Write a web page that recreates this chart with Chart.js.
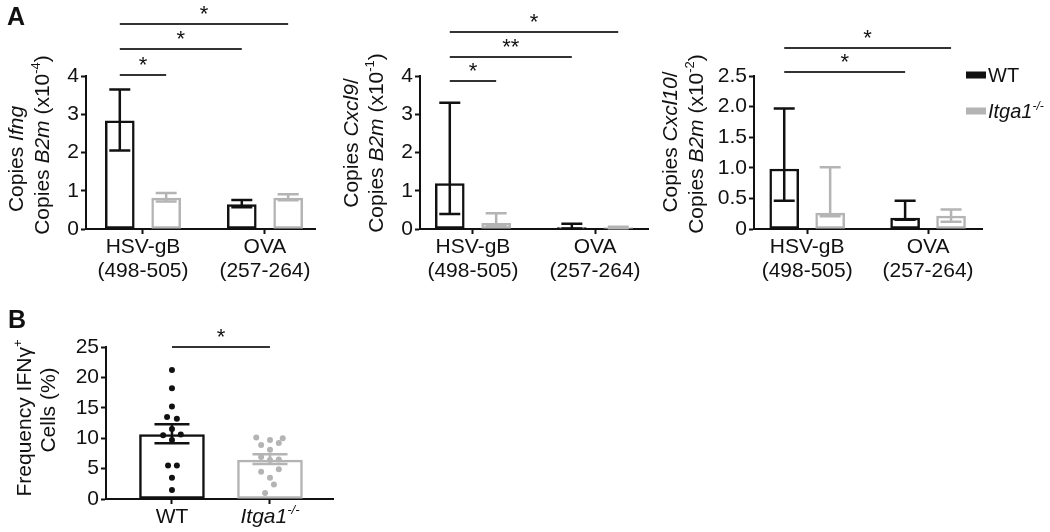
<!DOCTYPE html>
<html lang="en">
<head>
  <meta charset="utf-8">
  <title>Ifng / Cxcl9 / Cxcl10 and IFNg+ frequency</title>
  <script src="https://cdn.jsdelivr.net/npm/chart.js"></script>
  <style>
    html, body { margin: 0; padding: 0; background: #fff; }
    #page { position: relative; width: 1050px; height: 532px; overflow: hidden; }
    canvas { position: absolute; }
  </style>
</head>
<body>
<div id="page">
  <canvas id="ifng" width="320" height="300" style="left:0;top:0"></canvas>
  <canvas id="cxcl9" width="330" height="300" style="left:320px;top:0"></canvas>
  <canvas id="cxcl10" width="400" height="300" style="left:650px;top:0"></canvas>
  <canvas id="freq" width="350" height="232" style="left:0;top:300px"></canvas>
</div>
<script>
  // ---- data ----
  const groupLabels = [['HSV-gB', '(498-505)'], ['OVA', '(257-264)']];
  const seriesLabels = [[['WT']], [['Itga1', 'i'], ['-/-', 'is']]];

  // panel A, Ifng (x10^-4)
  const ifngWT = [2.83, 0.64];
  const ifngWTLow = [2.05, 0.57];
  const ifngWTHigh = [3.65, 0.76];
  const ifngKO = [0.81, 0.81];
  const ifngKOLow = [0.72, 0.75];
  const ifngKOHigh = [0.94, 0.91];

  // panel A, Cxcl9 (x10^-1)
  const cxcl9WT = [1.19, 0.04];
  const cxcl9WTLow = [0.39, 0.01];
  const cxcl9WTHigh = [3.30, 0.14];
  const cxcl9KO = [0.15, 0.04];
  const cxcl9KOLow = [0.08, 0.02];
  const cxcl9KOHigh = [0.41, 0.06];

  // panel A, Cxcl10 (x10^-2)
  const cxcl10WT = [0.98, 0.18];
  const cxcl10WTLow = [0.46, 0.15];
  const cxcl10WTHigh = [1.97, 0.46];
  const cxcl10KO = [0.26, 0.21];
  const cxcl10KOLow = [0.21, 0.12];
  const cxcl10KOHigh = [1.01, 0.32];

  // significance brackets: [from bar, to bar, height in axis units, mark]
  // bars: 0 WT HSV, 1 KO HSV, 2 WT OVA, 3 KO OVA
  const ifngSig = [[0, 3, 5.36, '*'], [0, 2, 4.71, '*'], [0, 1, 4.03, '*']];
  const cxcl9Sig = [[0, 3, 5.15, '*'], [0, 2, 4.5, '**'], [0, 1, 3.87, '*']];
  const cxcl10Sig = [[0, 3, 2.96, '*'], [0, 2, 2.565, '*']];

  // panel B, frequency IFNg+ cells (%)
  const freqMean = [10.6, 6.4];
  const freqSemLow = [9.15, 5.75];
  const freqSemHigh = [12.3, 7.35];
  const freqWT = [21.2, 18.2, 15.2, 13.5, 13.2, 11.5, 10.5, 10.6, 9.7, 5.5, 5.5, 3.5, 1.5];
  const freqWTJitter = [0, 0, 0, -0.05, 0.05, 0, -0.09, 0.09, 0, -0.04, 0.05, 0, 0];
  const freqKO = [10.1, 9.7, 10.0, 8.9, 9.2, 8.1, 6.9, 6.4, 6.5, 4.5, 4.9, 3.5, 2.4, 1.0];
  const freqKOJitter = [-0.14, 0, 0.13, -0.09, 0.09, 0, -0.09, 0, 0.09, -0.09, 0.09, 0, 0.04, -0.05];
  const freqSig = [[0, 1, 25.0, '*']];

  // ---- look ----
  const FONT = '"Liberation Sans", Arial, Helvetica, sans-serif';
  const INK = '#111111';
  const WT_COLOR = '#111111';
  const KO_COLOR = '#b4b4b4';
  const SIG_COLOR = '#333333';
  const BAR_SHIFT = 0.19;

  // text runs: [text, style] where style may hold i (italic), b (bold), s (superscript)
  function drawRich(ctx, parts, x, y, size, align) {
    const runs = parts.map(([text, style = '']) => {
      const sup = style.includes('s');
      const px = sup ? Math.round(size * 0.6) : size;
      const font = (style.includes('i') ? 'italic ' : '') + (style.includes('b') ? 'bold ' : '') + px + 'px ' + FONT;
      ctx.font = font;
      return { text, font, width: ctx.measureText(text).width, rise: sup ? size * 0.4 : 0 };
    });
    const total = runs.reduce((s, r) => s + r.width, 0);
    let cx = align === 'left' ? x : x - total / 2;
    ctx.textAlign = 'left';
    ctx.textBaseline = 'alphabetic';
    runs.forEach(r => {
      ctx.font = r.font;
      ctx.fillText(r.text, cx, y - r.rise);
      cx += r.width;
    });
  }

  function textPlugin(items) {
    return {
      id: 'richText',
      afterDraw(chart) {
        const ctx = chart.ctx;
        items.forEach(it => {
          const x = it.xv !== undefined ? chart.scales.x.getPixelForValue(it.xv) : it.x;
          ctx.save();
          ctx.fillStyle = INK;
          ctx.translate(x, it.y);
          if (it.rotate) ctx.rotate(-Math.PI / 2);
          drawRich(ctx, it.parts, 0, it.size * 0.36, it.size, it.align);
          ctx.restore();
        });
      }
    };
  }

  function errorPlugin(cap) {
    return {
      id: 'errorBars',
      afterDatasetsDraw(chart) {
        const ctx = chart.ctx, ys = chart.scales.y;
        ctx.save();
        ctx.lineWidth = 2.5;
        chart.data.datasets.forEach((ds, di) => {
          if (!ds.errLow) return;
          chart.getDatasetMeta(di).data.forEach((bar, i) => {
            const lo = ys.getPixelForValue(ds.errLow[i]);
            const hi = ys.getPixelForValue(ds.errHigh[i]);
            ctx.strokeStyle = Array.isArray(ds.borderColor) ? ds.borderColor[i] : ds.borderColor;
            ctx.beginPath();
            ctx.moveTo(bar.x, lo); ctx.lineTo(bar.x, hi);
            ctx.moveTo(bar.x - cap / 2, lo); ctx.lineTo(bar.x + cap / 2, lo);
            ctx.moveTo(bar.x - cap / 2, hi); ctx.lineTo(bar.x + cap / 2, hi);
            ctx.stroke();
          });
        });
        ctx.restore();
      }
    };
  }

  function sigPlugin(pairs, barOf) {
    return {
      id: 'sigBars',
      afterDraw(chart) {
        const ctx = chart.ctx, ys = chart.scales.y;
        ctx.save();
        ctx.strokeStyle = SIG_COLOR;
        ctx.lineWidth = 2;
        ctx.fillStyle = INK;
        ctx.font = '22px ' + FONT;
        ctx.textAlign = 'center';
        ctx.textBaseline = 'alphabetic';
        pairs.forEach(([a, b, level, mark]) => {
          const pa = barOf(a), pb = barOf(b);
          const x1 = chart.getDatasetMeta(pa[0]).data[pa[1]].x;
          const x2 = chart.getDatasetMeta(pb[0]).data[pb[1]].x;
          const py = Math.round(ys.getPixelForValue(level));
          ctx.beginPath();
          ctx.moveTo(x1, py);
          ctx.lineTo(x2, py);
          ctx.stroke();
          ctx.fillText(mark, (x1 + x2) / 2, py - 3);
        });
        ctx.restore();
      }
    };
  }

  function legendPlugin(x, y, gap) {
    return {
      id: 'sideLegend',
      afterDraw(chart) {
        const ctx = chart.ctx;
        chart.data.datasets.forEach((ds, i) => {
          const cy = y + i * gap;
          ctx.save();
          ctx.fillStyle = ds.borderColor;
          ctx.fillRect(x, cy - 3.5, 20, 7);
          ctx.fillStyle = INK;
          drawRich(ctx, seriesLabels[i], x + 22, cy + 20 * 0.36, 20, 'left');
          ctx.restore();
        });
      }
    };
  }

  function baseOptions(c) {
    const tickFont = { family: FONT, size: 21, lineHeight: 1.15 };
    return {
      responsive: false,
      animation: false,
      events: [],
      layout: { padding: { top: c.area.top, right: c.w - c.area.right, left: 0, bottom: 0 } },
      plugins: { legend: { display: false }, tooltip: { enabled: false } },
      scales: {
        x: {
          type: 'linear', min: c.xMin, max: c.xMax, offset: false,
          afterBuildTicks: s => { s.ticks = [{ value: 0 }, { value: 1 }]; },
          afterFit: s => { s.height = c.h - c.area.bottom; },
          grid: { offset: false, drawOnChartArea: false, tickLength: 5, tickWidth: 2, tickColor: INK },
          border: { color: INK, width: 2 },
          ticks: { color: INK, font: tickFont, padding: 1, maxRotation: 0, autoSkip: false,
                   callback: v => c.xLabels[v] }
        },
        y: {
          min: 0, max: c.yMax,
          afterFit: s => { s.width = c.area.left; },
          grid: { drawOnChartArea: false, tickLength: 5, tickWidth: 2, tickColor: INK },
          border: { color: INK, width: 2 },
          ticks: { stepSize: c.yStep, color: INK, font: tickFont, padding: 2,
                   callback: c.yFmt || (v => v) }
        }
      }
    };
  }

  function buildA(c) {
    const common = { backgroundColor: '#ffffff', borderWidth: 2.5, borderSkipped: false,
                     barThickness: 29, grouped: false };
    return new Chart(document.getElementById(c.id), {
      type: 'bar',
      data: {
        datasets: [
          { label: 'WT', data: c.wt.map((v, i) => ({ x: i - BAR_SHIFT, y: v })),
            errLow: c.wtLo, errHigh: c.wtHi, borderColor: WT_COLOR, ...common },
          { label: 'Itga1-/-', data: c.ko.map((v, i) => ({ x: i + BAR_SHIFT, y: v })),
            errLow: c.koLo, errHigh: c.koHi, borderColor: KO_COLOR, ...common }
        ]
      },
      options: baseOptions(Object.assign({ xLabels: groupLabels }, c)),
      plugins: [errorPlugin(21), sigPlugin(c.sig, k => [k % 2, Math.floor(k / 2)]), textPlugin(c.texts)]
        .concat(c.extra || [])
    });
  }

  buildA({
    id: 'ifng', w: 320, h: 300, area: { left: 86, right: 315, top: 76, bottom: 229 },
    xMin: -0.467, xMax: 1.41, yMax: 4, yStep: 1,
    wt: ifngWT, wtLo: ifngWTLow, wtHi: ifngWTHigh, ko: ifngKO, koLo: ifngKOLow, koHi: ifngKOHigh,
    sig: ifngSig,
    texts: [
      { parts: [['A', 'b']], x: 16, y: 16, size: 25 },
      { parts: [['Copies '], ['Ifng', 'i']], x: 15, y: 159, size: 21, rotate: true },
      { parts: [['Copies '], ['B2m', 'i'], [' (x10'], ['-4', 's'], [')']], x: 41, y: 145, size: 21, rotate: true }
    ]
  });

  buildA({
    id: 'cxcl9', w: 330, h: 300, area: { left: 100, right: 328, top: 76, bottom: 229 },
    xMin: -0.434, xMax: 1.434, yMax: 4, yStep: 1,
    wt: cxcl9WT, wtLo: cxcl9WTLow, wtHi: cxcl9WTHigh, ko: cxcl9KO, koLo: cxcl9KOLow, koHi: cxcl9KOHigh,
    sig: cxcl9Sig,
    texts: [
      { parts: [['Copies '], ['Cxcl9', 'i'], ['/']], x: 30, y: 143, size: 21, rotate: true },
      { parts: [['Copies '], ['B2m', 'i'], [' (x10'], ['-1', 's'], [')']], x: 55, y: 143, size: 21, rotate: true }
    ]
  });

  buildA({
    id: 'cxcl10', w: 400, h: 300, area: { left: 104, right: 332, top: 76, bottom: 229 },
    xMin: -0.44, xMax: 1.446, yMax: 2.5, yStep: 0.5,
    yFmt: v => (v === 0 ? '0' : v.toFixed(1)),
    wt: cxcl10WT, wtLo: cxcl10WTLow, wtHi: cxcl10WTHigh, ko: cxcl10KO, koLo: cxcl10KOLow, koHi: cxcl10KOHigh,
    sig: cxcl10Sig,
    texts: [
      { parts: [['Copies '], ['Cxcl10', 'i'], ['/']], x: 19, y: 142, size: 21, rotate: true },
      { parts: [['Copies '], ['B2m', 'i'], [' (x10'], ['-2', 's'], [')']], x: 45, y: 144, size: 21, rotate: true }
    ],
    extra: [legendPlugin(316, 75, 36)]
  });

  // panel B
  const freqArea = { left: 106, right: 333, top: 47, bottom: 199 };
  new Chart(document.getElementById('freq'), {
    type: 'bar',
    data: {
      datasets: [
        { type: 'bar', data: freqMean.map((v, i) => ({ x: i, y: v })),
          errLow: freqSemLow, errHigh: freqSemHigh,
          borderColor: [WT_COLOR, KO_COLOR], backgroundColor: '#ffffff', borderWidth: 2.5,
          borderSkipped: false, barThickness: 65, grouped: false, order: 2 },
        { type: 'scatter', data: freqWT.map((v, i) => ({ x: freqWTJitter[i], y: v })),
          backgroundColor: WT_COLOR, pointRadius: 3, borderWidth: 0, order: 1 },
        { type: 'scatter', data: freqKO.map((v, i) => ({ x: 1 + freqKOJitter[i], y: v })),
          backgroundColor: KO_COLOR, pointRadius: 3, borderWidth: 0, order: 1 }
      ]
    },
    options: baseOptions({
      w: 350, h: 232, area: freqArea, xMin: -0.673, xMax: 1.643, yMax: 25, yStep: 5,
      xLabels: ['', '']
    }),
    plugins: [
      errorPlugin(35),
      sigPlugin(freqSig, k => [0, k]),
      textPlugin([
        { parts: [['B', 'b']], x: 17, y: 19, size: 25 },
        { parts: [['Frequency IFN\u03b3'], ['+', 's']], x: 23, y: 118, size: 21, rotate: true },
        { parts: [['Cells (%)']], x: 47, y: 110, size: 21, rotate: true },
        { parts: seriesLabels[0], xv: 0, y: 215, size: 21 },
        { parts: seriesLabels[1], xv: 1, y: 215, size: 21 }
      ])
    ]
  });
</script>
</body>
</html>
